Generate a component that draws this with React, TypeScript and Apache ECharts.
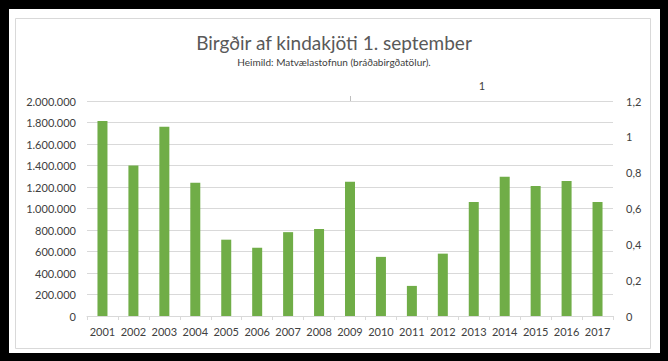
import React, { useEffect, useRef } from "react";
import * as echarts from "echarts";

const years = ["2001","2002","2003","2004","2005","2006","2007","2008","2009","2010","2011","2012","2013","2014","2015","2016","2017"];
const stock = [1815000,1400000,1760000,1240000,710000,635000,780000,810000,1250000,550000,280000,580000,1060000,1295000,1210000,1255000,1060000];
const titleText = "Birgðir af kindakjöti 1. september";
const subtitleText = "Heimild: Matvælastofnun (bráðabirgðatölur).";
const strayLabel = "1";

const fmtThousands = (v: number) => String(Math.round(v)).replace(/\B(?=(\d{3})+(?!\d))/g, ".");
const fmtDecimal = (v: number) => String(Math.round(v * 10) / 10).replace(".", ",");

export default function App() {
  const ref = useRef<HTMLDivElement>(null);
  useEffect(() => {
    document.body.style.margin = "0";
    const chart = echarts.init(ref.current!, null, { renderer: "svg" });
    const font = "Lato, 'Open Sans', sans-serif";
    chart.setOption({
      animation: false,
      backgroundColor: "#000000",
      textStyle: { fontFamily: font },
      title: {
        text: titleText,
        subtext: subtitleText,
        left: "center",
        top: 28,
        itemGap: 5,
        textStyle: { fontFamily: font, fontSize: 19, fontWeight: "normal", color: "#595959" },
        subtextStyle: { fontFamily: font, fontSize: 10, color: "#404040" },
      },
      graphic: [
        { type: "rect", z: -100, shape: { x: 9, y: 9, width: 651, height: 344 }, style: { fill: "#ffffff" } },
        { type: "rect", z: -99, shape: { x: 15.5, y: 18.5, width: 635, height: 330 }, style: { fill: "#ffffff", stroke: "#d9d9d9", lineWidth: 1 } },
        { type: "text", x: 482, y: 85, style: { text: strayLabel, fontFamily: font, fontSize: 11, fill: "#404040", textAlign: "center", textVerticalAlign: "middle" } },
        { type: "line", shape: { x1: 350.5, y1: 96, x2: 350.5, y2: 101 }, style: { stroke: "#bfbfbf", lineWidth: 1 } },
      ],
      grid: { left: 87, right: 55, top: 101, bottom: 45, containLabel: false },
      xAxis: {
        type: "category",
        data: years,
        boundaryGap: true,
        axisLine: { lineStyle: { color: "#d9d9d9" } },
        axisTick: { show: true, length: 4, interval: 0, lineStyle: { color: "#d9d9d9" } },
        axisLabel: { color: "#404040", fontSize: 11, margin: 10, interval: 0, fontFamily: font },
      },
      yAxis: [
        {
          type: "value",
          min: 0,
          max: 2000000,
          interval: 200000,
          axisLine: { show: false },
          axisTick: { show: false },
          splitLine: { lineStyle: { color: "#d9d9d9" } },
          axisLabel: { color: "#404040", fontSize: 11, margin: 11, fontFamily: font, formatter: (v: number) => fmtThousands(v) },
        },
        {
          type: "value",
          min: 0,
          max: 1.2,
          interval: 0.2,
          position: "right",
          axisLine: { show: false },
          axisTick: { show: false },
          splitLine: { show: false },
          axisLabel: { color: "#404040", fontSize: 11, margin: 13, fontFamily: font, formatter: (v: number) => fmtDecimal(v) },
        },
      ],
      series: [
        {
          type: "bar",
          data: stock,
          barWidth: 10,
          itemStyle: { color: "#70ad47" },
          yAxisIndex: 0,
        },
      ],
    });
    return () => chart.dispose();
  }, []);
  return <div ref={ref} style={{ width: 668, height: 361 }} />;
}
